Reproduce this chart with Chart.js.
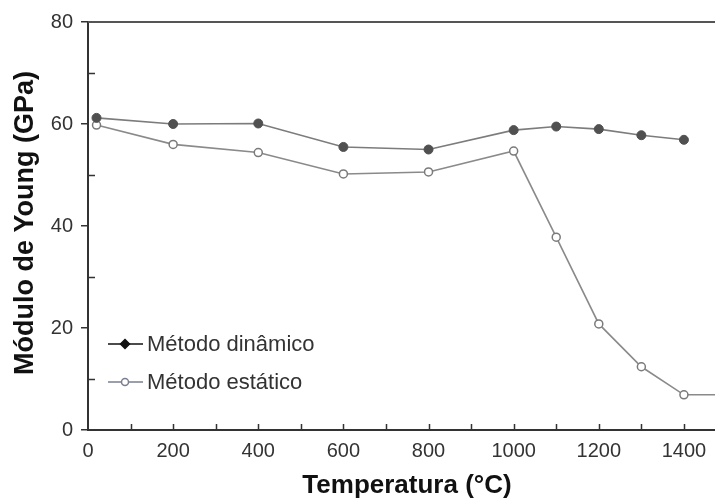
<!DOCTYPE html>
<html>
<head>
<meta charset="utf-8">
<script src="https://cdn.jsdelivr.net/npm/chart.js@4/dist/chart.umd.min.js"></script>
<style>
  html, body { margin: 0; padding: 0; background: #fff; }
  #wrap { width: 715px; height: 499px; }
</style>
</head>
<body>
<div id="wrap"><canvas id="c" width="715" height="499"></canvas></div>
<script>
// Young's modulus vs temperature, dynamic and static methods
const temperatures = [20, 200, 400, 600, 800, 1000, 1100, 1200, 1300, 1400];
const dynamicModulus = [61.2, 60.0, 60.1, 55.5, 55.0, 58.8, 59.5, 59.0, 57.8, 56.9];
const staticTemperatures = [20, 200, 400, 600, 800, 1000, 1100, 1200, 1300, 1400, 1500];
const staticModulus = [59.8, 56.0, 54.4, 50.2, 50.6, 54.7, 37.8, 20.8, 12.4, 6.9, 6.9];
const xTickLabels = [0, 200, 400, 600, 800, 1000, 1200, 1400];
const xMinorTicks = [100, 200, 300, 400, 500, 600, 700, 800, 900, 1000, 1100, 1200, 1300, 1400];
const yTickLabels = [0, 20, 40, 60, 80];
const yMinorTicks = [10, 30, 50, 70];
const seriesNames = ['Método dinâmico', 'Método estático'];
const xTitle = 'Temperatura (°C)';
const yTitle = 'Módulo de Young (GPa)';

const FONT = "'Liberation Sans', Arial, Helvetica, sans-serif";
const INK = '#333333';

const toPoints = (xs, ys) => xs.map((x, i) => ({ x: x, y: ys[i] }));

const decorations = {
  id: 'decorations',
  afterDraw(chart) {
    const ctx = chart.ctx;
    const area = chart.chartArea;
    const xs = chart.scales.x;
    const ys = chart.scales.y;
    ctx.save();

    // top frame line
    ctx.strokeStyle = '#555';
    ctx.lineWidth = 2;
    ctx.beginPath();
    ctx.moveTo(area.left, area.top);
    ctx.lineTo(area.right, area.top);
    ctx.stroke();

    // inward minor ticks
    ctx.strokeStyle = INK;
    ctx.lineWidth = 1.5;
    ctx.beginPath();
    yMinorTicks.forEach(v => {
      const y = Math.round(ys.getPixelForValue(v)) + 0.5;
      ctx.moveTo(area.left, y);
      ctx.lineTo(area.left + 7, y);
    });
    xMinorTicks.forEach(v => {
      const x = Math.round(xs.getPixelForValue(v)) + 0.5;
      ctx.moveTo(x, area.bottom);
      ctx.lineTo(x, area.bottom - 6);
    });
    ctx.stroke();

    // axis titles
    ctx.fillStyle = '#111';
    ctx.font = 'bold 26px ' + FONT;
    ctx.textAlign = 'center';
    ctx.textBaseline = 'alphabetic';
    ctx.fillText(xTitle, 407, 493);
    ctx.save();
    ctx.translate(33, 223);
    ctx.rotate(-Math.PI / 2);
    ctx.font = 'bold 27px ' + FONT;
    ctx.fillText(yTitle, 0, 0);
    ctx.restore();

    // legend
    const rows = [344, 382];
    chart.data.datasets.forEach((ds, i) => {
      const y = rows[i];
      ctx.strokeStyle = i === 0 ? '#111' : '#7a7f90';
      ctx.lineWidth = 1.5;
      ctx.beginPath();
      ctx.moveTo(108, y);
      ctx.lineTo(143, y);
      ctx.stroke();
      ctx.beginPath();
      if (i === 0) {
        ctx.moveTo(125, y - 4.5);
        ctx.lineTo(129.5, y);
        ctx.lineTo(125, y + 4.5);
        ctx.lineTo(120.5, y);
        ctx.closePath();
        ctx.fillStyle = '#111';
      } else {
        ctx.arc(125, y, 3.5, 0, Math.PI * 2);
        ctx.fillStyle = '#fff';
      }
      ctx.fill();
      ctx.stroke();
      ctx.fillStyle = INK;
      ctx.font = '22px ' + FONT;
      ctx.textAlign = 'left';
      ctx.textBaseline = 'middle';
      ctx.fillText(ds.label, 147, y + 1);
    });

    ctx.restore();
  }
};

new Chart(document.getElementById('c'), {
  type: 'line',
  data: {
    datasets: [
      {
        label: seriesNames[0],
        data: toPoints(temperatures, dynamicModulus),
        borderColor: '#7c7c7c',
        borderWidth: 1.6,
        pointRadius: 4.5,
        pointBackgroundColor: '#505050',
        pointBorderColor: '#505050',
        pointBorderWidth: 1,
        tension: 0
      },
      {
        label: seriesNames[1],
        data: toPoints(staticTemperatures, staticModulus),
        borderColor: '#8a8a8a',
        borderWidth: 1.6,
        pointRadius: 4,
        pointBackgroundColor: '#ffffff',
        pointBorderColor: '#7a7a7a',
        pointBorderWidth: 1.5,
        tension: 0
      }
    ]
  },
  options: {
    responsive: false,
    animation: false,
    devicePixelRatio: 1,
    events: [],
    layout: { autoPadding: false, padding: { top: 22, left: 0, right: 0, bottom: 0 } },
    plugins: {
      legend: { display: false },
      tooltip: { enabled: false }
    },
    scales: {
      x: {
        type: 'linear',
        min: 0,
        max: 1473,
        afterFit: s => { s.height = 69; s.paddingRight = 0; s.paddingLeft = 0; },
        border: { display: true, color: INK, width: 2 },
        grid: { display: true, drawOnChartArea: false, drawTicks: false },
        ticks: {
          stepSize: 100,
          autoSkip: false,
          includeBounds: false,
          maxRotation: 0,
          padding: 9,
          color: INK,
          font: { family: FONT, size: 20 },
          callback: v => xTickLabels.includes(v) ? String(v) : ''
        }
      },
      y: {
        min: 0,
        max: 80,
        afterFit: s => { s.width = 88; s.paddingTop = 0; s.paddingBottom = 0; },
        border: { display: true, color: INK, width: 2 },
        grid: { display: true, drawOnChartArea: false, drawTicks: true, tickLength: 7, color: INK, lineWidth: 1.5 },
        ticks: {
          stepSize: 20,
          padding: 8,
          color: INK,
          font: { family: FONT, size: 20 },
          callback: v => yTickLabels.includes(v) ? String(v) : ''
        }
      }
    }
  },
  plugins: [decorations]
});
</script>
</body>
</html>
